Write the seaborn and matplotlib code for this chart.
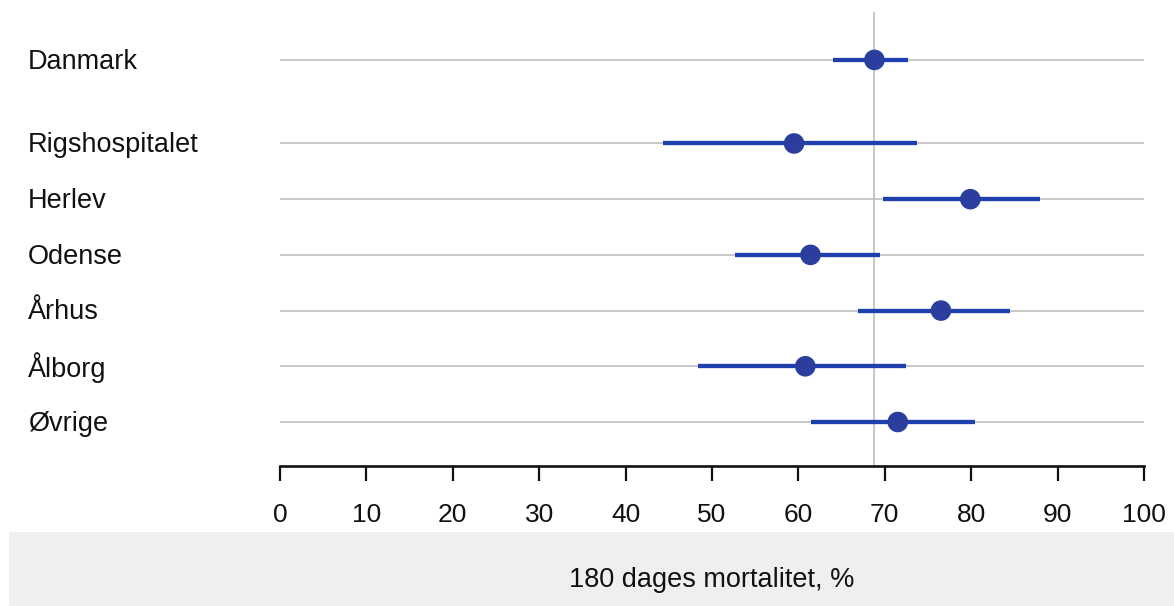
import matplotlib
matplotlib.use("Agg")
import matplotlib.pyplot as plt
import matplotlib.transforms as mtransforms
from matplotlib.patches import Rectangle
import seaborn as sns
import pandas as pd

# ---- data ----
labels = ["Danmark", "Rigshospitalet", "Herlev", "Odense", "Århus", "Ålborg", "Øvrige"]
estimate = [68.8, 59.5, 79.9, 61.4, 76.5, 60.8, 71.5]
ci_low = [64.0, 44.3, 69.8, 52.7, 66.9, 48.4, 61.5]
ci_high = [72.7, 73.7, 88.0, 69.5, 84.5, 72.5, 80.4]
row_pos = [0, 1.5, 2.5, 3.5, 4.5, 5.5, 6.5]
ref_value = 68.8
xticks = [0, 10, 20, 30, 40, 50, 60, 70, 80, 90, 100]
xlabel = "180 dages mortalitet, %"

df = pd.DataFrame({"label": labels, "est": estimate, "lo": ci_low, "hi": ci_high, "y": row_pos})

sns.set_theme(style="white")
plt.rcParams["font.family"] = ["Liberation Sans", "DejaVu Sans"]

W, H = 1174, 606
fig = plt.figure(figsize=(W / 100, H / 100), dpi=100)

# gray band at bottom
fig.patches.append(Rectangle((9 / W, 0), 1 - 9 / W, (H - 532) / H, transform=fig.transFigure,
                             facecolor="#efefef", edgecolor="none", zorder=0))

ax = fig.add_axes([280 / W, 1 - 466 / H, (1144 - 280) / W, (466 - 12) / H])
ax.set_facecolor("none")

# row lines
ax.hlines(df["y"], 0, 100, color="#c8c8c8", lw=1.4, zorder=1)
# reference line
ax.axvline(ref_value, color="#bdbdbd", lw=1.2, zorder=1)
# CIs
ax.hlines(df["y"], df["lo"], df["hi"], color="#1f3fae", lw=3.1, zorder=2)
# points
sns.scatterplot(data=df, x="est", y="y", ax=ax, s=220, color="#2b3e9e",
                edgecolor="none", zorder=3, legend=False)

ax.set_xlim(0, 100)
ax.set_ylim(7.29, -0.86)
ax.set_yticks([])
ax.set_ylabel("")
ax.set_xlabel("")
ax.set_xticks(xticks)
ax.set_xticklabels([str(t) for t in xticks], fontsize=19, color="#111111")
ax.tick_params(axis="x", direction="out", length=10.5, width=1.6, color="#111111", pad=16, bottom=True)
for s in ["top", "left", "right"]:
    ax.spines[s].set_visible(False)
ax.spines["bottom"].set_color("#111111")
ax.spines["bottom"].set_linewidth(1.9)

# row labels
trans = mtransforms.blended_transform_factory(fig.transFigure, ax.transData)
for lab, y in zip(labels, row_pos):
    ax.text(28 / W, y + 0.03, lab, transform=trans, ha="left", va="center", fontsize=19.5,
            color="#111111", clip_on=False)

fig.text(712 / W, 1 - 580 / H, xlabel, ha="center", va="center", fontsize=19.5, color="#111111")

fig.savefig("out.png", dpi=100)
